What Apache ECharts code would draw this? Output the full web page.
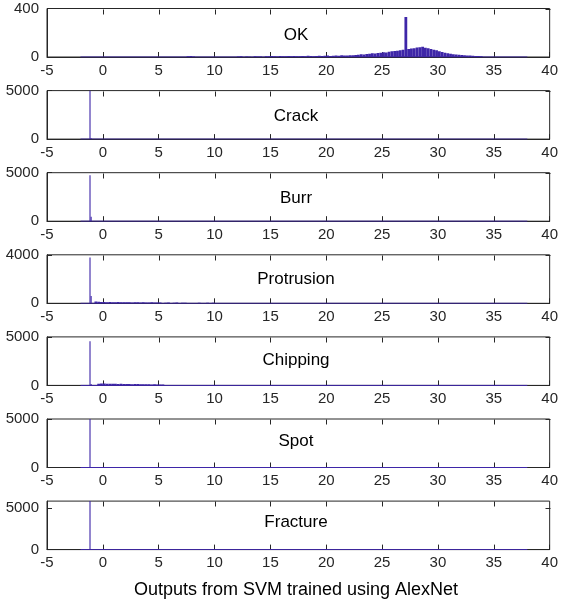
<!DOCTYPE html>
<html>
<head>
<meta charset="utf-8">
<script src="https://cdn.jsdelivr.net/npm/echarts@6/dist/echarts.min.js"></script>
<style>
  html, body { margin: 0; padding: 0; background: #fff; }
  #chart { width: 561px; height: 605px; }
</style>
</head>
<body>
<div id="chart"></div>
<script>
// class names, one subplot each
const classNames = ['OK', 'Crack', 'Burr', 'Protrusion', 'Chipping', 'Spot', 'Fracture'];
const yMaxes = [400, 5000, 5000, 4000, 5000, 5000, 5800];
const yIntervals = [400, 5000, 5000, 4000, 5000, 5000, 5000];
const xTicks = [-5, 0, 5, 10, 15, 20, 25, 30, 35, 40];
const histRange = [-2, 38];

// OK histogram, 0.25 wide bins from 7.5
const okStart = 7.5;
const okWidth = 0.25;
const okCounts = [
  6, 8, 5, 0,
  0, 0, 0, 0, 0, 0, 0, 0, 0, 0, 0, 0, 0, 0,
  4, 6, 0, 5,
  3, 0, 6, 4,
  5, 0, 7, 6,
  9, 6, 5, 8,
  6, 7, 9, 6,
  8, 7, 6, 9,
  7, 10, 8, 7,
  9, 11, 8, 10,
  12, 9, 11, 13,
  10, 14, 12, 13,
  15, 14, 17, 19,
  22, 20, 25, 27,
  30, 28, 34, 36,
  40, 38, 44, 47,
  50, 52, 56, 60,
  330, 65, 70, 72,
  78, 80, 84, 76,
  72, 66, 60, 55,
  48, 42, 36, 30,
  26, 22, 20, 18,
  16, 14, 12, 12,
  10, 9, 8, 7
];

// big bins near -1, 0.1 wide from -1.2
const spikeStart = -1.2;
const spikeWidth = 0.1;
const crackSpike = [5000, 90];
const burrSpike = [4750, 450];
const protrusionSpike = [3780, 600];
const chippingSpike = [4550, 150];
const spotSpike = [5200];
const fractureSpike = [6200];

// low tails, 0.25 wide from -0.75
const tailStart = -0.75;
const tailWidth = 0.25;
const protrusionTail = [
  150, 120, 100,
  110, 90, 100, 80,
  90, 100, 80, 90,
  80, 90, 70, 90,
  80, 70, 90, 60,
  70, 80, 60, 70,
  60, 0, 50, 60,
  0, 50, 60, 0,
  50, 40, 0, 0,
  0, 0, 40, 0,
  0, 40, 0, 50
];
const chippingTail = [
  0, 180, 200,
  190, 170, 160, 180,
  170, 150, 160, 140,
  150, 140, 130, 150,
  140, 120, 130, 110,
  120, 100, 110, 90,
  80, 100, 0, 0,
  0, 0, 0, 0,
  0, 0, 0, 0,
  0, 0, 50, 0,
  40, 0, 50, 0
];

const barColor = '#3e26a8';
const axisColor = '#262626';
const fontFamily = 'Liberation Sans, Arial, sans-serif';

function toBins(start, width, counts) {
  var out = [];
  counts.forEach(function (c, i) {
    if (c > 0) out.push([start + i * width, start + (i + 1) * width, c]);
  });
  return out;
}

const classBins = [
  toBins(okStart, okWidth, okCounts),
  toBins(spikeStart, spikeWidth, crackSpike),
  toBins(spikeStart, spikeWidth, burrSpike),
  toBins(spikeStart, spikeWidth, protrusionSpike).concat(toBins(tailStart, tailWidth, protrusionTail)),
  toBins(spikeStart, spikeWidth, chippingSpike).concat(toBins(tailStart, tailWidth, chippingTail)),
  toBins(spikeStart, spikeWidth, spotSpike),
  toBins(spikeStart, spikeWidth, fractureSpike)
];

var chart = echarts.init(document.getElementById('chart'), null, { renderer: 'canvas' });

var grids = [], xAxes = [], yAxes = [], series = [], texts = [];
var gridLeft = 47, gridRight = 8, gridTop = 8.5, gridStep = 82.1, gridHeight = 48.5;
var plotCenter = 296;

function renderBar(params, api) {
  var p0 = api.coord([api.value(0), api.value(2)]);
  var p1 = api.coord([api.value(1), 0]);
  return {
    type: 'rect',
    shape: { x: p0[0], y: p0[1], width: Math.max(p1[0] - p0[0], 1), height: p1[1] - p0[1] },
    style: { fill: barColor }
  };
}

// inward ticks on the top edge (dx 0, dy +5) and right edge (dx -5, dy 0)
function edgeTick(dx, dy) {
  return function (params, api) {
    var p = api.coord([api.value(0), api.value(1)]);
    var x = Math.round(p[0]) + 0.5, y = Math.round(p[1]) + 0.5;
    return {
      type: 'line',
      shape: { x1: x, y1: y, x2: x + dx, y2: y + dy },
      style: { stroke: axisColor, lineWidth: 1 }
    };
  };
}

// plain numbers, no thousands separator
function plainLabel(v) { return String(v); }

classNames.forEach(function (name, i) {
  var top = gridTop + i * gridStep;
  var xMax = xTicks[xTicks.length - 1];
  grids.push({ left: gridLeft, right: gridRight, top: top, height: gridHeight, show: true, borderColor: axisColor, borderWidth: 1 });
  xAxes.push({
    type: 'value', gridIndex: i, min: xTicks[0], max: xMax, interval: 5,
    axisLine: { show: true, onZero: false, lineStyle: { color: axisColor } },
    axisTick: { show: true, inside: true, length: 5, lineStyle: { color: axisColor } },
    axisLabel: { color: axisColor, fontSize: 15, fontFamily: fontFamily, margin: 6, formatter: plainLabel },
    splitLine: { show: false }
  });
  yAxes.push({
    type: 'value', gridIndex: i, min: 0, max: yMaxes[i], interval: yIntervals[i],
    axisLine: { show: true, onZero: false, lineStyle: { color: axisColor } },
    axisTick: { show: true, inside: true, length: 5, lineStyle: { color: axisColor } },
    axisLabel: { color: axisColor, fontSize: 15, fontFamily: fontFamily, margin: 8, formatter: plainLabel,
      showMaxLabel: yMaxes[i] % yIntervals[i] === 0 },
    splitLine: { show: false }
  });
  // zero height bins across the whole range
  series.push({
    type: 'line', xAxisIndex: i, yAxisIndex: i, silent: true,
    data: [[histRange[0], 0], [histRange[1], 0]],
    symbol: 'none', lineStyle: { color: barColor, width: 1 }, z: 3
  });
  series.push({
    type: 'custom', xAxisIndex: i, yAxisIndex: i, silent: true, clip: true,
    renderItem: renderBar,
    encode: { x: [0, 1], y: 2 },
    data: classBins[i], z: 4
  });
  series.push({
    type: 'custom', xAxisIndex: i, yAxisIndex: i, silent: true,
    renderItem: edgeTick(0, 5),
    encode: { x: 0, y: 1 },
    data: xTicks.slice(1, -1).map(function (v) { return [v, yMaxes[i]]; }), z: 6
  });
  series.push({
    type: 'custom', xAxisIndex: i, yAxisIndex: i, silent: true,
    renderItem: edgeTick(-5, 0),
    encode: { x: 0, y: 1 },
    data: [[xMax, yIntervals[i]]], z: 6
  });
  texts.push({
    type: 'text', x: plotCenter, y: 35.5 + i * 81.2,
    style: { text: name, fill: '#000', font: '17px ' + fontFamily, align: 'center', verticalAlign: 'middle' }
  });
});

texts.push({
  type: 'text', x: plotCenter, y: 590,
  style: { text: 'Outputs from SVM trained using AlexNet', fill: '#000', font: '18px ' + fontFamily, align: 'center', verticalAlign: 'middle' }
});

chart.setOption({
  animation: false,
  backgroundColor: '#fff',
  grid: grids,
  xAxis: xAxes,
  yAxis: yAxes,
  series: series,
  graphic: texts
});
</script>
</body>
</html>
